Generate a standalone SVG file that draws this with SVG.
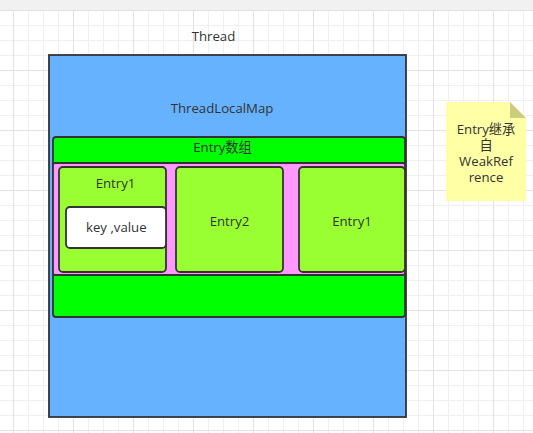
<svg xmlns="http://www.w3.org/2000/svg" width="533" height="433" viewBox="0 0 533 433">
  <defs>
    <pattern id="grid" x="13" y="10" width="60" height="60" patternUnits="userSpaceOnUse">
      <path d="M15.5 0V60M30.5 0V60M45.5 0V60M0 15.5H60M0 30.5H60M0 45.5H60" stroke="#f0f0f0" stroke-width="1" fill="none"/>
      <path d="M0.5 0V60M0 0.5H60" stroke="#e2e2e2" stroke-width="1" fill="none"/>
    </pattern>
    <style>
      .t { font-family: "Open Sans", "Noto Sans CJK SC", sans-serif; font-size: 13.2px; fill: #333333; text-anchor: middle; }
      .box { stroke: #333333; stroke-width: 1.8; }
    </style>
  </defs>
  <rect x="0" y="0" width="533" height="433" fill="#ffffff"/>
  <rect x="0" y="10" width="533" height="423" fill="url(#grid)"/>
  <rect x="0" y="0" width="533" height="10" fill="#f1f1f1"/>

  <g id="thread">
    <text class="t" x="213.5" y="41">Thread</text>
  </g>
  <g id="threadlocalmap">
    <rect class="box" x="49" y="55" width="357" height="362" fill="#66b2ff"/>
    <text class="t" x="222" y="113">ThreadLocalMap</text>
  </g>
  <g id="entry-array">
    <rect class="box" x="53" y="137" width="352" height="180" rx="3" fill="#00ff00"/>
    <text class="t" x="222.5" y="152">Entry数组</text>
  </g>
  <g id="entry-slots">
    <rect class="box" x="53" y="163" width="352" height="112" rx="2" fill="#ff99ff"/>
  </g>
  <g id="entry1">
    <rect class="box" x="59" y="167" width="107" height="105" rx="4" fill="#99ff33"/>
    <text class="t" x="115.5" y="188">Entry1</text>
  </g>
  <g id="keyvalue">
    <rect class="box" x="66" y="207" width="100" height="41" rx="4" fill="#ffffff"/>
    <text class="t" x="116.3" y="232">key ,value</text>
  </g>
  <g id="entry2">
    <rect class="box" x="176" y="167" width="107" height="105" rx="4" fill="#99ff33"/>
    <text class="t" x="229.5" y="226">Entry2</text>
  </g>
  <g id="entry1b">
    <rect class="box" x="299" y="167" width="106" height="105" rx="4" fill="#99ff33"/>
    <text class="t" x="352" y="226">Entry1</text>
  </g>
  <g id="note">
    <path d="M446 102H510L526 118V201H446Z" fill="#ffffa6"/>
    <path d="M510 102L526 118H510Z" fill="#cccc7f"/>
    <text class="t" x="486" y="134">Entry继承<tspan x="486" dy="16">自</tspan><tspan x="486" dy="16">WeakRef</tspan><tspan x="486" dy="16">rence</tspan></text>
  </g>
  <g id="connectors"></g>
</svg>
